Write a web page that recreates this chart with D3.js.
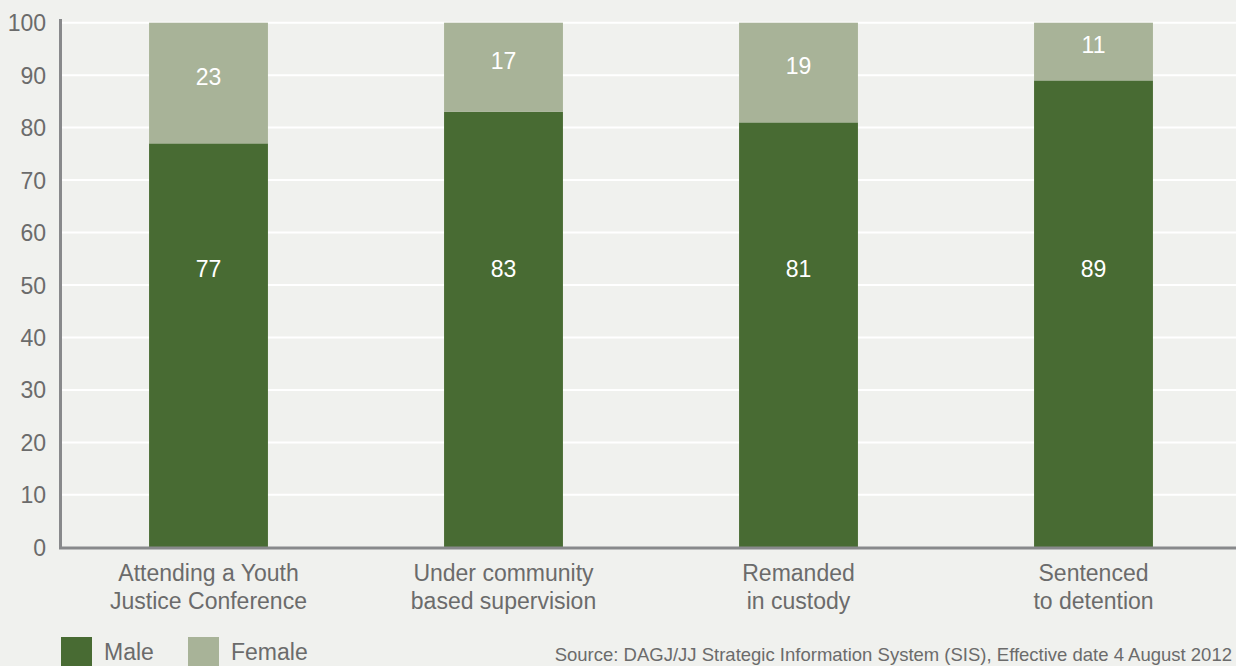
<!DOCTYPE html>
<html>
<head>
<meta charset="utf-8">
<script src="https://cdn.jsdelivr.net/npm/d3@7"></script>
<style>
  html, body { margin: 0; padding: 0; background: #f0f1ee; }
  svg { display: block; font-family: "Liberation Sans", Arial, sans-serif; }
</style>
</head>
<body>
<svg id="chart" width="1236" height="666"></svg>
<script>
const categories = [["Attending a Youth", "Justice Conference"], ["Under community", "based supervision"], ["Remanded", "in custody"], ["Sentenced", "to detention"]];
const maleValues = [77, 83, 81, 89];
const femaleValues = [23, 17, 19, 11];
const yTicks = [0, 10, 20, 30, 40, 50, 60, 70, 80, 90, 100];
const seriesNames = ["Male", "Female"];
const colors = { Male: "#486b33", Female: "#a8b398" };
const sourceText = "Source: DAGJ/JJ Strategic Information System (SIS), Effective date 4 August 2012";

const svg = d3.select("#chart");
const W = 1236, H = 666;
const m = { left: 61, top: 22.7, bottom: 547.3 };

const x = d3.scaleBand().domain(d3.range(categories.length)).range([m.left, m.left + 1180]).paddingInner(0.597).paddingOuter(0.2985);
const y = d3.scaleLinear().domain([0, 100]).range([m.bottom, m.top]);

const textColor = "#6b6b6b";

// gridlines
svg.append("g").selectAll("line").data(yTicks.filter(d => d > 0)).join("line")
  .attr("x1", m.left + 1).attr("x2", W)
  .attr("y1", d => y(d)).attr("y2", d => y(d))
  .attr("stroke", "#ffffff").attr("stroke-width", 2);

// y tick labels
const yAxis = d3.axisLeft(y).tickValues(yTicks).tickSize(0).tickPadding(0).tickFormat(d3.format("d"));
const gy = svg.append("g").attr("transform", `translate(46,0)`).call(yAxis);
gy.select(".domain").remove();
gy.selectAll("text").attr("font-size", 23).attr("fill", textColor)
  .attr("font-family", "Liberation Sans, Arial, sans-serif").attr("dy", "0.35em");

// stacked bars
const rows = categories.map((c, i) => ({ i, Male: maleValues[i], Female: femaleValues[i] }));
const stack = d3.stack().keys(seriesNames)(rows);
svg.append("g").selectAll("g").data(stack).join("g")
  .attr("fill", d => colors[d.key])
  .selectAll("rect").data(d => d).join("rect")
  .attr("x", d => x(d.data.i)).attr("width", x.bandwidth())
  .attr("y", d => y(d[1])).attr("height", d => y(d[0]) - y(d[1]));

// axes lines
svg.append("line").attr("x1", 60.5).attr("x2", 60.5).attr("y1", 19).attr("y2", 549)
  .attr("stroke", "#88898b").attr("stroke-width", 3);
svg.append("line").attr("x1", 59).attr("x2", W).attr("y1", 548).attr("y2", 548)
  .attr("stroke", "#88898b").attr("stroke-width", 3);

// value labels
const lbl = svg.append("g").attr("fill", "#ffffff").attr("font-size", 23).attr("text-anchor", "middle");
lbl.selectAll("text.m").data(rows).join("text").attr("class", "m")
  .attr("x", d => x(d.i) + x.bandwidth() / 2)
  .attr("y", d => y(53) - 9 + 17)
  .text(d => d.Male);
lbl.selectAll("text.f").data(rows).join("text").attr("class", "f")
  .attr("x", d => x(d.i) + x.bandwidth() / 2)
  .attr("y", d => (y(100) + y(d.Male)) / 2 + 1.5)
  .text(d => d.Female);

// category labels
const cat = svg.append("g").attr("fill", textColor).attr("font-size", 23).attr("text-anchor", "middle");
cat.selectAll("text").data(categories).join("text")
  .attr("x", (d, i) => x(i) + x.bandwidth() / 2)
  .attr("y", 581)
  .selectAll("tspan").data(d => d).join("tspan")
  .attr("x", function() { return d3.select(this.parentNode).attr("x"); })
  .attr("dy", (d, j) => j === 0 ? 0 : 28)
  .text(d => d);

// legend
const legX = [61, 188];
const leg = svg.append("g").selectAll("g").data(seriesNames).join("g")
  .attr("transform", (d, i) => `translate(${legX[i]},637)`);
leg.append("rect").attr("width", 31).attr("height", 31).attr("fill", d => colors[d]);
leg.append("text").attr("x", 43).attr("y", 23).attr("font-size", 23).attr("fill", textColor).text(d => d);

// source
svg.append("text").attr("x", 1232).attr("y", 661).attr("text-anchor", "end")
  .attr("font-size", 18.5).attr("fill", textColor).text(sourceText);
</script>
</body>
</html>
